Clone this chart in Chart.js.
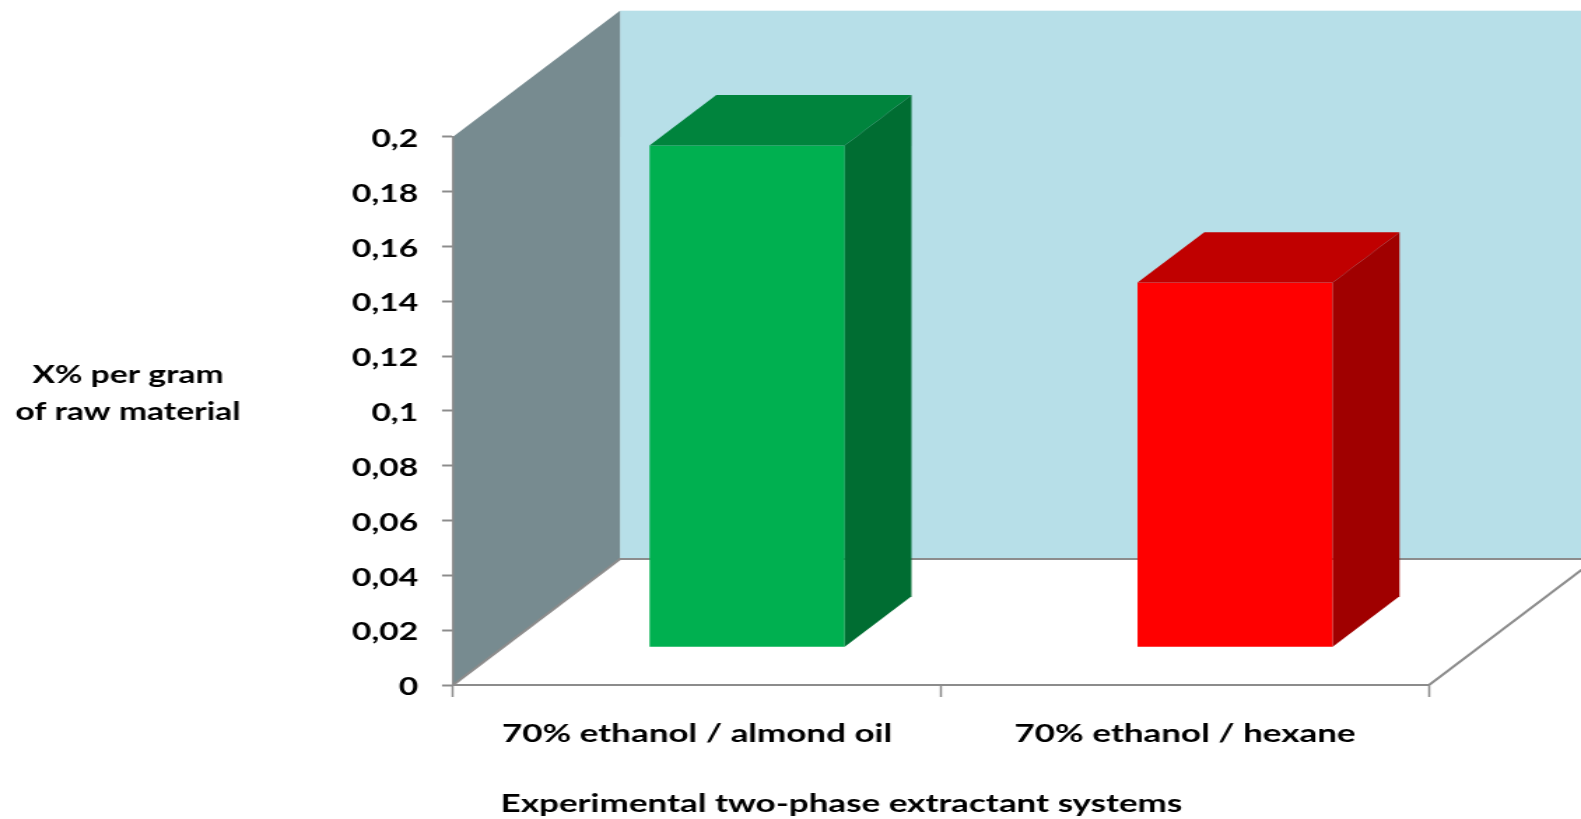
<!DOCTYPE html>
<html>
<head>
<meta charset="utf-8">
<script src="https://cdn.jsdelivr.net/npm/chart.js@4"></script>
<style>
  html, body { margin: 0; padding: 0; background: #ffffff; overflow: hidden; }
  #wrap { width: 1581px; height: 819px; overflow: hidden; }
  #chart { display: block; transform-origin: 0 0; }
</style>
</head>
<body>
<div id="wrap"><canvas id="chart" width="1130" height="819"></canvas></div>
<script>
// ---- data ----
const categories = ['70% ethanol / almond oil', '70% ethanol / hexane'];
const yieldValues = [0.183, 0.133];
const yTickLabels = ['0', '0,02', '0,04', '0,06', '0,08', '0,1', '0,12', '0,14', '0,16', '0,18', '0,2'];
const yAxisTitle = ['X% per gram', 'of raw material'];
const xAxisTitle = 'Experimental two-phase extractant systems';

// ---- layout & style ----
const CANVAS_W = 1130, CANVAS_H = 819;
const STRETCH = 1581 / CANVAS_W;          // the chart is drawn wide, stretched horizontally
const AREA = { left: 323.8, right: 1021.4, top: 136.7, bottom: 685 };
const DEPTH_X = 119.3, DEPTH_Y = 126;     // oblique depth of the 3-D box
const BAR_FRONT = 0.3, BAR_BACK = 0.7;    // bar position inside the depth
const EDGE = '#8C8C8C';
const FONT = "Lato, 'Open Sans', sans-serif";
const barFront = ['#00B050', '#FF0000'];
const barTop = ['#00843D', '#C00000'];
const barSide = ['#006D32', '#A00000'];

document.getElementById('chart').style.transform = `scaleX(${STRETCH})`;

// Walls, floor and bar depth faces
const box3d = {
  id: 'box3d',
  beforeDraw(chart) {
    const { ctx, chartArea: a } = chart;
    ctx.save();
    // back wall
    ctx.fillStyle = '#B7DFE8';
    ctx.fillRect(a.left + DEPTH_X, a.top - DEPTH_Y, a.right - a.left, a.bottom - a.top);
    // side wall
    ctx.fillStyle = '#778B90';
    ctx.beginPath();
    ctx.moveTo(a.left, a.bottom);
    ctx.lineTo(a.left, a.top);
    ctx.lineTo(a.left + DEPTH_X, a.top - DEPTH_Y);
    ctx.lineTo(a.left + DEPTH_X, a.bottom - DEPTH_Y);
    ctx.closePath();
    ctx.fill();
    // floor edges
    ctx.strokeStyle = EDGE;
    ctx.lineWidth = 2;
    ctx.beginPath();
    ctx.moveTo(a.left, a.bottom);
    ctx.lineTo(a.left + DEPTH_X, a.bottom - DEPTH_Y);
    ctx.lineTo(a.right + DEPTH_X, a.bottom - DEPTH_Y);
    ctx.moveTo(a.right, a.bottom);
    ctx.lineTo(a.right + DEPTH_X, a.bottom - DEPTH_Y);
    ctx.stroke();
    ctx.restore();
  },
  beforeDatasetDraw(chart) {
    const ctx = chart.ctx;
    ctx.save();
    ctx.translate(BAR_FRONT * DEPTH_X, -BAR_FRONT * DEPTH_Y);
  },
  afterDatasetDraw(chart, args) {
    const ctx = chart.ctx;
    ctx.restore();
    const ox = BAR_FRONT * DEPTH_X, oy = -BAR_FRONT * DEPTH_Y;
    const bx = (BAR_BACK - BAR_FRONT) * DEPTH_X, by = (BAR_BACK - BAR_FRONT) * DEPTH_Y;
    args.meta.data.forEach((bar, i) => {
      const { x, y, base, width } = bar.getProps(['x', 'y', 'base', 'width'], true);
      const l = x - width / 2 + ox, r = x + width / 2 + ox;
      const t = y + oy, b = base + oy;
      ctx.save();
      ctx.fillStyle = barTop[i];
      ctx.beginPath();
      ctx.moveTo(l, t); ctx.lineTo(r, t); ctx.lineTo(r + bx, t - by); ctx.lineTo(l + bx, t - by);
      ctx.closePath(); ctx.fill();
      ctx.fillStyle = barSide[i];
      ctx.beginPath();
      ctx.moveTo(r, t); ctx.lineTo(r + bx, t - by); ctx.lineTo(r + bx, b - by); ctx.lineTo(r, b);
      ctx.closePath(); ctx.fill();
      ctx.restore();
    });
  },
  afterDraw(chart) {
    const ctx = chart.ctx;
    ctx.save();
    ctx.fillStyle = '#000000';
    ctx.textAlign = 'center';
    ctx.textBaseline = 'alphabetic';
    ctx.font = `bold 24px ${FONT}`;
    ctx.fillText(yAxisTitle[0], 91.5, 383);
    ctx.fillText(yAxisTitle[1], 91.5, 420);
    ctx.font = `bold 25px ${FONT}`;
    ctx.fillText(xAxisTitle, 601.4, 812);
    ctx.restore();
  }
};

new Chart(document.getElementById('chart'), {
  type: 'bar',
  data: {
    labels: categories,
    datasets: [{
      data: yieldValues,
      backgroundColor: barFront,
      borderWidth: 0,
      barPercentage: 0.4,
      categoryPercentage: 1.0,
      clip: false
    }]
  },
  options: {
    responsive: false,
    animation: false,
    events: [],
    devicePixelRatio: 1,
    layout: { padding: { top: AREA.top, right: CANVAS_W - AREA.right, left: 0, bottom: 0 } },
    plugins: { legend: { display: false }, tooltip: { enabled: false } },
    scales: {
      x: {
        grid: { display: true, offset: true, drawOnChartArea: false, drawTicks: true,
                tickLength: 12, tickWidth: 1.5, tickColor: EDGE },
        border: { display: true, color: EDGE, width: 2 },
        ticks: { color: '#000000', font: { family: FONT, weight: 'bold', size: 25 },
                 padding: 22, maxRotation: 0, autoSkip: false },
        afterFit: s => { s.height = CANVAS_H - AREA.bottom; }
      },
      y: {
        min: 0,
        max: 0.2,
        grid: { drawOnChartArea: false, drawTicks: true, tickLength: 7.9, tickWidth: 2, tickColor: EDGE },
        border: { display: true, color: EDGE, width: 1.5 },
        ticks: { stepSize: 0.02, padding: 17, labelOffset: 2.5, color: '#000000',
                 font: { family: FONT, weight: 'bold', size: 24 },
                 callback: (v, i) => yTickLabels[i] },
        afterFit: s => { s.width = AREA.left; }
      }
    }
  },
  plugins: [box3d]
});
</script>
</body>
</html>
